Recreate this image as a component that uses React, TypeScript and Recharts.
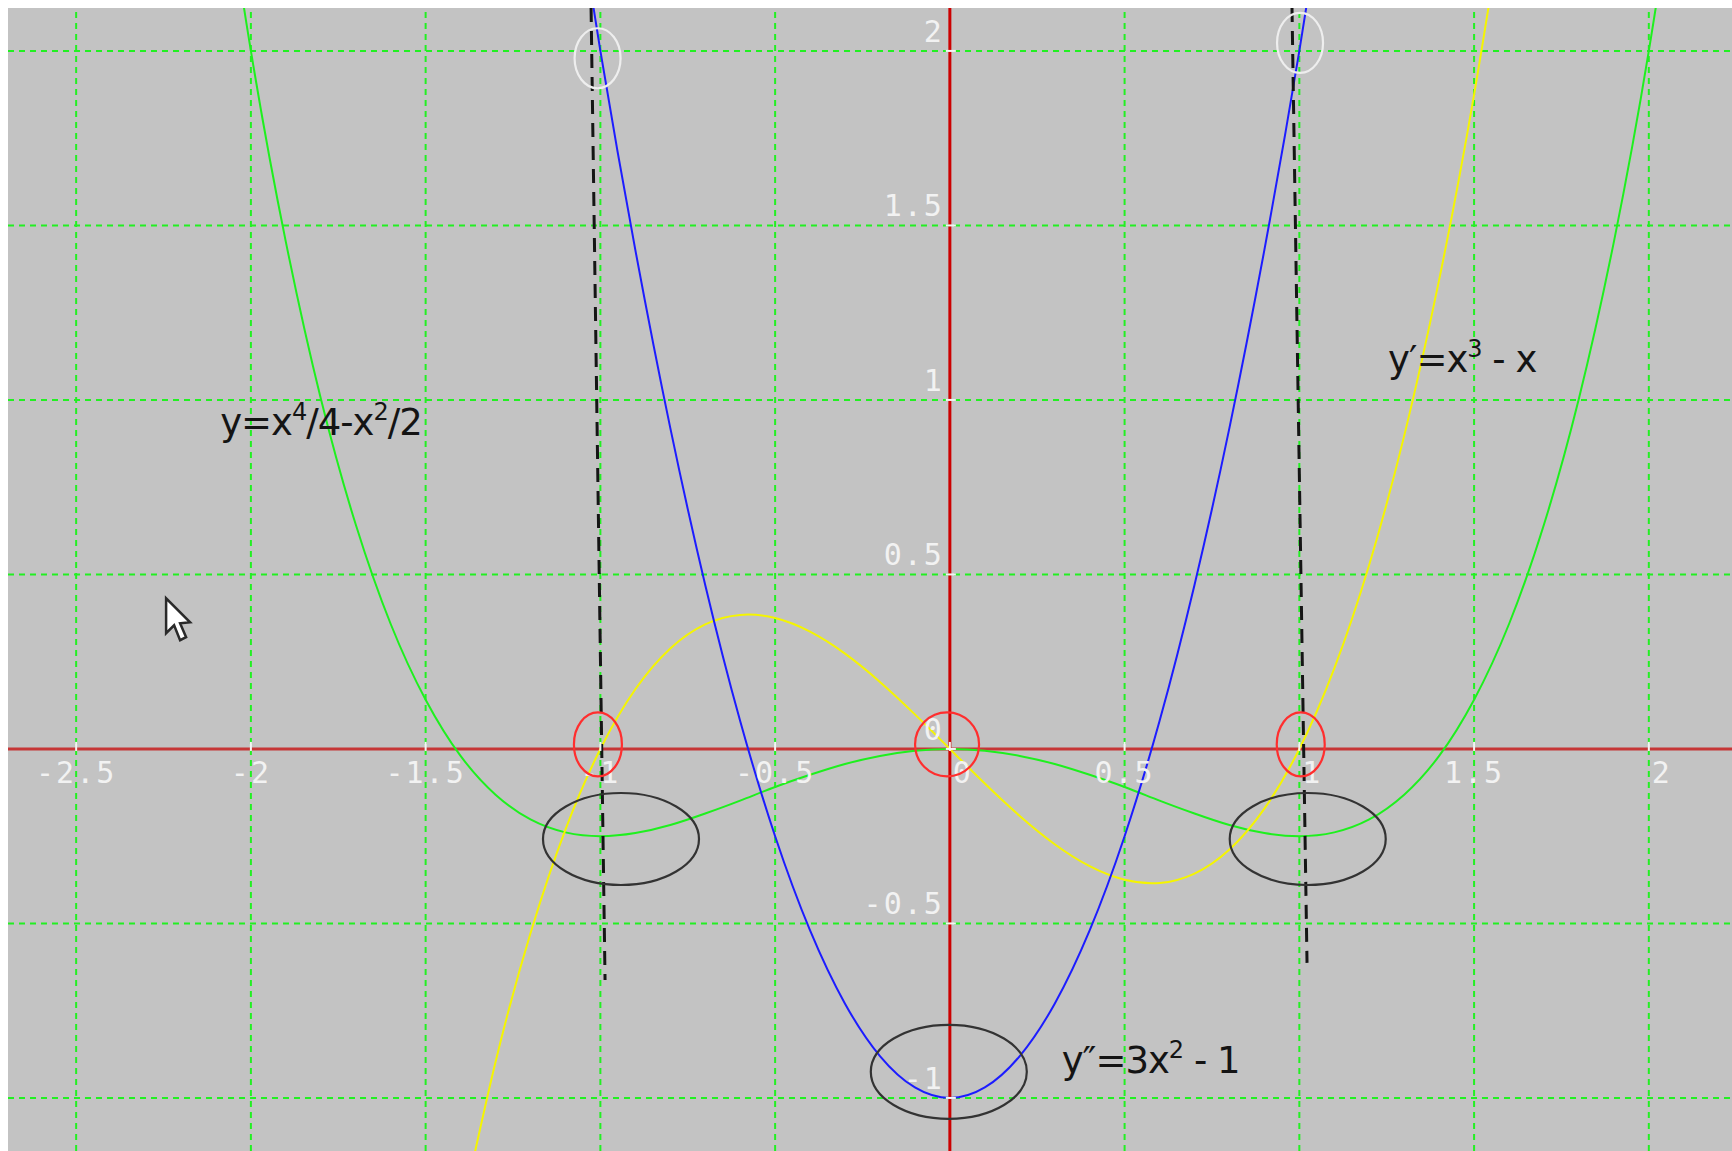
import React from "react";
import { ComposedChart, Line, XAxis, YAxis, ReferenceLine, ReferenceDot } from "recharts";

// y = x^4/4 - x^2/2 (green)
const quarticX = [-2.1, -2.0, -1.9, -1.8, -1.7, -1.6, -1.5, -1.4, -1.3, -1.2, -1.1, -1.0, -0.9, -0.8, -0.7, -0.6, -0.5, -0.4, -0.3, -0.2, -0.1, 0, 0.1, 0.2, 0.3, 0.4, 0.5, 0.6, 0.7, 0.8, 0.9, 1.0, 1.1, 1.2, 1.3, 1.4, 1.5, 1.6, 1.7, 1.8, 1.9, 2.0, 2.1];
const quarticY = [2.657, 2.0, 1.453, 1.004, 0.643, 0.358, 0.141, -0.02, -0.131, -0.202, -0.239, -0.25, -0.241, -0.218, -0.185, -0.148, -0.109, -0.074, -0.043, -0.02, -0.005, 0, -0.005, -0.02, -0.043, -0.074, -0.109, -0.148, -0.185, -0.218, -0.241, -0.25, -0.239, -0.202, -0.131, -0.02, 0.141, 0.358, 0.643, 1.004, 1.453, 2.0, 2.657];

// y' = x^3 - x (yellow)
const cubicX = [-1.4, -1.3, -1.2, -1.1, -1.0, -0.9, -0.8, -0.7, -0.6, -0.5, -0.4, -0.3, -0.2, -0.1, 0, 0.1, 0.2, 0.3, 0.4, 0.5, 0.6, 0.7, 0.8, 0.9, 1.0, 1.1, 1.2, 1.3, 1.4, 1.5, 1.6];
const cubicY = [-1.344, -0.897, -0.528, -0.231, 0, 0.171, 0.288, 0.357, 0.384, 0.375, 0.336, 0.273, 0.192, 0.099, 0, -0.099, -0.192, -0.273, -0.336, -0.375, -0.384, -0.357, -0.288, -0.171, 0, 0.231, 0.528, 0.897, 1.344, 1.875, 2.496];

// y'' = 3x^2 - 1 (blue)
const parabolaX = [-1.1, -1.0, -0.9, -0.8, -0.7, -0.6, -0.5, -0.4, -0.3, -0.2, -0.1, 0, 0.1, 0.2, 0.3, 0.4, 0.5, 0.6, 0.7, 0.8, 0.9, 1.0, 1.1];
const parabolaY = [2.63, 2.0, 1.43, 0.92, 0.47, 0.08, -0.25, -0.52, -0.73, -0.88, -0.97, -1.0, -0.97, -0.88, -0.73, -0.52, -0.25, 0.08, 0.47, 0.92, 1.43, 2.0, 2.63];

// grid / tick values
const xTickValues = [-2.5, -2, -1.5, -1, -0.5, 0, 0.5, 1, 1.5, 2];
const xTickLabels = ["-2.5", "-2", "-1.5", "-1", "-0.5", "0", "0.5", "1", "1.5", "2"];
const yTickValues = [-1, -0.5, 0, 0.5, 1, 1.5, 2];
const yTickLabels = ["-1", "-0.5", "0", "0.5", "1", "1.5", "2"];

const quarticData = quarticX.map((x, i) => ({ x, y: quarticY[i] }));
const cubicData = cubicX.map((x, i) => ({ x, y: cubicY[i] }));
const parabolaData = parabolaX.map((x, i) => ({ x, y: parabolaY[i] }));

const CHART_W = 1724;
const CHART_H = 1143;
const X_DOMAIN: [number, number] = [-2.695, 2.238];
const Y_DOMAIN: [number, number] = [-1.152, 2.123];

const GRID_GREEN = "#22f022";
const TICK_FONT = "'DejaVu Sans Mono', monospace";
const LABEL_FONT = "'DejaVu Sans', sans-serif";

// annotation ellipses: [x, y, rx, ry, colour]
const ellipses: [number, number, number, number, string][] = [
  [-1.008, 1.979, 23, 30, "#eeeeee"],
  [1.002, 2.023, 23, 30, "#eeeeee"],
  [-1.007, 0.013, 24, 32, "#ff2e2e"],
  [-0.008, 0.013, 32, 32, "#ff2e2e"],
  [1.004, 0.013, 24, 32, "#ff2e2e"],
  [-0.941, -0.258, 78, 46, "#333333"],
  [1.024, -0.258, 78, 46, "#333333"],
  [-0.003, -0.925, 78, 47, "#333333"],
];

// dashed construction lines through x = -1 and x = 1
const guideSegments = [
  [{ x: -1.0266, y: 2.123 }, { x: -0.9866, y: -0.662 }],
  [{ x: 0.979, y: 2.123 }, { x: 1.022, y: -0.613 }],
];

const ellipseShape = (rx: number, ry: number, stroke: string) => (p: any) => (
  <ellipse cx={p.cx} cy={p.cy} rx={rx} ry={ry} fill="none" stroke={stroke} strokeWidth={2.2} />
);

const xTickShape = (label: string) => (p: any) => (
  <g>
    <line x1={p.cx} x2={p.cx} y1={p.cy - 7} y2={p.cy + 2} stroke="#f4f4f4" strokeWidth={2} />
    <text
      x={p.cx + (label.length === 1 ? 13 : 0)}
      y={p.cy + 34}
      textAnchor="middle"
      fontFamily={TICK_FONT}
      fontSize={30}
      letterSpacing={2}
      fill="#f2f2f2"
    >
      {label}
    </text>
  </g>
);

const yTickShape = (label: string) => (p: any) => (
  <g>
    <line x1={p.cx - 4} x2={p.cx + 6} y1={p.cy} y2={p.cy} stroke="#f4f4f4" strokeWidth={2} />
    <text
      x={p.cx - 6}
      y={p.cy - 9}
      textAnchor="end"
      fontFamily={TICK_FONT}
      fontSize={30}
      letterSpacing={2}
      fill="#f2f2f2"
    >
      {label}
    </text>
  </g>
);

const SUP = 24;
const SUP_DY = 15;

const labelText = (parts: [string, boolean][]) => (p: any) => {
  let lastSup = false;
  return (
    <text x={p.cx} y={p.cy} fontFamily={LABEL_FONT} fontSize={37} letterSpacing={-1} fill="#141414">
      {parts.map(([t, sup], i) => {
        const dy = sup && !lastSup ? -SUP_DY : !sup && lastSup ? SUP_DY : 0;
        lastSup = sup;
        return (
          <tspan key={i} dy={dy} fontSize={sup ? SUP : 37}>
            {t}
          </tspan>
        );
      })}
    </text>
  );
};

const cursorShape = (p: any) => {
  const pts = [
    [0, 0],
    [0, 35],
    [8, 27],
    [14, 42],
    [20, 39],
    [14, 25],
    [24, 24],
  ]
    .map(([dx, dy]) => `${p.cx + dx},${p.cy + dy}`)
    .join(" ");
  return <polygon points={pts} fill="#ffffff" stroke="#2a2a2a" strokeWidth={2.5} strokeLinejoin="miter" />;
};

export default function App() {
  return (
    <div
      style={{
        position: "absolute",
        left: 8,
        top: 8,
        width: CHART_W,
        height: CHART_H,
        background: "#c3c3c3",
        overflow: "hidden",
      }}
    >
      <ComposedChart width={CHART_W} height={CHART_H} margin={{ top: 0, right: 0, bottom: 0, left: 0 }}>
        <XAxis dataKey="x" type="number" domain={X_DOMAIN} allowDataOverflow hide />
        <YAxis dataKey="y" type="number" domain={Y_DOMAIN} allowDataOverflow hide />

        {xTickValues
          .filter((v) => v !== 0)
          .map((v) => (
            <ReferenceLine key={`gx${v}`} x={v} stroke={GRID_GREEN} strokeWidth={2} strokeDasharray="6 5" ifOverflow="hidden" />
          ))}
        {yTickValues
          .filter((v) => v !== 0)
          .map((v) => (
            <ReferenceLine key={`gy${v}`} y={v} stroke={GRID_GREEN} strokeWidth={2} strokeDasharray="6 5" ifOverflow="hidden" />
          ))}

        <ReferenceLine y={0} stroke="#c63636" strokeWidth={3} ifOverflow="hidden" />
        <ReferenceLine x={0} stroke="#cc0000" strokeWidth={3} ifOverflow="hidden" />

        {xTickValues.map((v, i) => (
          <ReferenceDot key={`tx${v}`} x={v} y={0} r={1} ifOverflow="visible" shape={xTickShape(xTickLabels[i])} />
        ))}
        {yTickValues.map((v, i) => (
          <ReferenceDot key={`ty${v}`} x={0} y={v} r={1} ifOverflow="visible" shape={yTickShape(yTickLabels[i])} />
        ))}

        <Line data={quarticData} dataKey="y" type="natural" stroke="#1ef01e" strokeWidth={2} dot={false} isAnimationActive={false} />
        <Line data={cubicData} dataKey="y" type="natural" stroke="#f5f500" strokeWidth={2} dot={false} isAnimationActive={false} />
        <Line data={parabolaData} dataKey="y" type="natural" stroke="#1c1cff" strokeWidth={2} dot={false} isAnimationActive={false} />

        {guideSegments.map((seg, i) => (
          <ReferenceLine key={`seg${i}`} segment={seg} stroke="#151515" strokeWidth={3} strokeDasharray="14 9" ifOverflow="visible" />
        ))}

        {ellipses.map(([x, y, rx, ry, c], i) => (
          <ReferenceDot key={`el${i}`} x={x} y={y} r={1} ifOverflow="visible" shape={ellipseShape(rx, ry, c)} />
        ))}

        <ReferenceDot
          x={-2.088}
          y={0.9}
          r={1}
          ifOverflow="visible"
          shape={labelText([
            ["y=x", false],
            ["4", true],
            ["/4-x", false],
            ["2", true],
            ["/2", false],
          ])}
        />
        <ReferenceDot
          x={1.254}
          y={1.08}
          r={1}
          ifOverflow="visible"
          shape={labelText([
            ["y\u2032=x", false],
            ["3", true],
            [" - x", false],
          ])}
        />
        <ReferenceDot
          x={0.32}
          y={-0.928}
          r={1}
          ifOverflow="visible"
          shape={labelText([
            ["y\u2033=3x", false],
            ["2", true],
            [" - 1", false],
          ])}
        />

        <ReferenceDot x={-2.2426} y={0.4318} r={1} ifOverflow="visible" shape={cursorShape} />
      </ComposedChart>
    </div>
  );
}
